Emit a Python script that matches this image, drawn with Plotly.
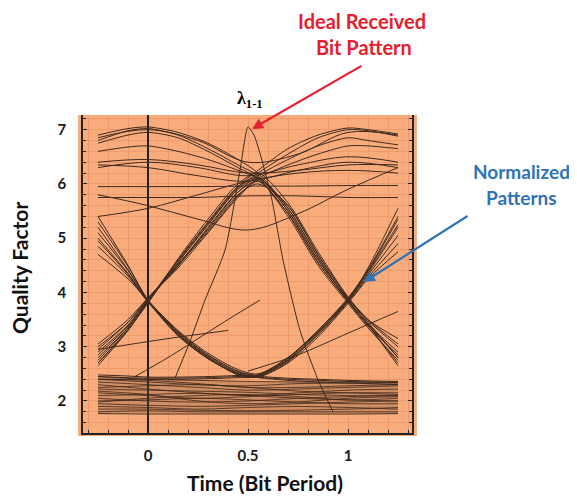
import plotly.graph_objects as go

# ---------------- data ----------------
x_tickvals = [0, 0.5, 1]
x_ticktext = ["0", "0.5", "1"]
y_tickvals = [2, 3, 4, 5, 6, 7]
y_ticktext = ["2", "3", "4", "5", "6", "7"]

# sample times for the transition patterns
edge_x = [-0.25, -0.1, 0, 0.15, 0.3, 0.45, 0.55, 0.7, 0.85, 1.0, 1.1, 1.25]

# 0-1-0 patterns (rise at 0, fall at 1)
arch_1 = [2.65, 3.30, 3.82, 4.55, 5.25, 5.90, 6.10, 5.55, 4.65, 3.85, 3.40, 2.65]
arch_2 = [2.75, 3.35, 3.85, 4.60, 5.30, 5.95, 6.12, 5.50, 4.60, 3.88, 3.45, 2.80]
arch_3 = [2.85, 3.38, 3.86, 4.50, 5.20, 5.85, 6.05, 5.45, 4.55, 3.84, 3.42, 2.90]
arch_4 = [2.95, 3.45, 3.88, 4.52, 5.15, 5.80, 6.00, 5.60, 4.70, 3.90, 3.48, 3.00]
arch_5 = [3.05, 3.50, 3.90, 4.45, 5.10, 5.75, 6.05, 5.40, 4.50, 3.80, 3.35, 2.75]
arch_6 = [2.70, 3.32, 3.80, 4.62, 5.35, 6.00, 6.20, 5.65, 4.75, 3.92, 3.50, 3.15]

# 1-0-1 patterns (fall at 0, rise at 1)
valley_1 = [5.40, 4.50, 3.85, 3.20, 2.78, 2.50, 2.45, 2.72, 3.25, 3.85, 4.35, 5.20]
valley_2 = [5.20, 4.42, 3.86, 3.25, 2.82, 2.52, 2.47, 2.78, 3.30, 3.88, 4.40, 5.35]
valley_3 = [5.00, 4.35, 3.84, 3.28, 2.85, 2.55, 2.48, 2.75, 3.22, 3.82, 4.28, 4.90]
valley_4 = [4.85, 4.30, 3.82, 3.22, 2.80, 2.48, 2.44, 2.70, 3.18, 3.80, 4.25, 4.75]
valley_5 = [4.70, 4.25, 3.85, 3.30, 2.88, 2.58, 2.50, 2.80, 3.28, 3.86, 4.45, 5.55]

# 0-1-1 patterns
rise_1 = [2.80, 3.35, 3.85, 4.58, 5.28, 5.95, 6.25, 6.65, 6.90, 7.03, 7.00, 6.92]
rise_2 = [2.70, 3.30, 3.83, 4.55, 5.25, 5.92, 6.20, 6.55, 6.85, 7.00, 6.98, 6.88]
rise_3 = [2.90, 3.40, 3.87, 4.48, 5.18, 5.85, 6.15, 6.45, 6.70, 6.85, 6.80, 6.72]
rise_4 = [3.00, 3.45, 3.90, 4.50, 5.12, 5.78, 6.10, 6.35, 6.55, 6.70, 6.70, 6.65]

# 1-1-0 patterns
fall_1 = [6.90, 7.02, 7.05, 6.95, 6.75, 6.45, 6.20, 5.55, 4.65, 3.85, 3.42, 2.80]
fall_2 = [6.80, 6.98, 7.02, 6.90, 6.65, 6.35, 6.15, 5.50, 4.60, 3.86, 3.40, 2.70]
fall_3 = [6.75, 6.90, 6.95, 6.85, 6.60, 6.30, 6.10, 5.45, 4.55, 3.83, 3.38, 2.85]
fall_4 = [6.60, 6.68, 6.70, 6.60, 6.45, 6.25, 6.10, 5.60, 4.70, 3.90, 3.50, 3.05]

# 1-0-0 patterns
drop_1 = [5.10, 4.40, 3.85, 3.24, 2.80, 2.50, 2.44, 2.40, 2.38, 2.36, 2.35, 2.34]
drop_2 = [4.95, 4.33, 3.83, 3.27, 2.84, 2.54, 2.46, 2.42, 2.40, 2.38, 2.37, 2.36]
drop_3 = [5.30, 4.48, 3.86, 3.22, 2.78, 2.49, 2.43, 2.38, 2.35, 2.33, 2.32, 2.30]

# 0-0-1 patterns
lift_1 = [2.45, 2.43, 2.42, 2.42, 2.43, 2.45, 2.46, 2.74, 3.22, 3.84, 4.32, 5.05]
lift_2 = [2.40, 2.40, 2.40, 2.40, 2.41, 2.43, 2.45, 2.76, 3.27, 3.87, 4.38, 5.25]
lift_3 = [2.48, 2.46, 2.44, 2.44, 2.45, 2.47, 2.48, 2.80, 3.30, 3.90, 4.42, 5.40]

edge_patterns = [arch_1, arch_2, arch_3, arch_4, arch_5, arch_6,
                 valley_1, valley_2, valley_3, valley_4, valley_5,
                 rise_1, rise_2, rise_3, rise_4,
                 fall_1, fall_2, fall_3, fall_4,
                 drop_1, drop_2, drop_3,
                 lift_1, lift_2, lift_3]

# steady "one" and "zero" level patterns
rail_x = [-0.25, 0, 0.25, 0.5, 0.75, 1.0, 1.25]
one_1 = [6.40, 6.45, 6.35, 6.20, 6.25, 6.35, 6.35]
one_2 = [6.35, 6.30, 6.15, 6.05, 6.25, 6.40, 6.30]
one_3 = [5.95, 5.95, 5.95, 5.96, 5.96, 5.97, 5.97]
one_4 = [5.80, 5.60, 5.35, 5.15, 5.45, 5.90, 6.30]
one_5 = [5.40, 5.55, 5.80, 6.05, 6.20, 6.25, 6.20]
one_6 = [6.85, 7.00, 6.80, 6.40, 6.55, 6.95, 6.90]
one_7 = [6.30, 6.40, 6.30, 6.15, 6.35, 6.50, 6.40]
one_8 = [5.75, 5.75, 5.75, 5.78, 5.78, 5.75, 5.75]
one_levels = [one_1, one_2, one_3, one_4, one_5, one_6, one_7, one_8]

zero_1 = [2.45, 2.40, 2.38, 2.36, 2.35, 2.35, 2.35]
zero_2 = [2.40, 2.35, 2.30, 2.28, 2.32, 2.33, 2.33]
zero_3 = [2.35, 2.30, 2.25, 2.20, 2.22, 2.25, 2.28]
zero_4 = [2.30, 2.22, 2.15, 2.10, 2.15, 2.20, 2.22]
zero_5 = [2.22, 2.20, 2.18, 2.16, 2.12, 2.10, 2.10]
zero_6 = [2.15, 2.10, 2.05, 2.08, 2.12, 2.15, 2.15]
zero_7 = [2.10, 2.12, 2.14, 2.10, 2.05, 2.02, 2.00]
zero_8 = [2.05, 2.00, 1.98, 2.00, 2.05, 2.08, 2.10]
zero_9 = [2.00, 2.02, 2.05, 2.02, 1.98, 1.95, 1.95]
zero_10 = [1.95, 1.92, 1.90, 1.92, 1.95, 1.98, 2.00]
zero_11 = [1.90, 1.88, 1.85, 1.88, 1.90, 1.88, 1.85]
zero_12 = [1.85, 1.85, 1.83, 1.82, 1.83, 1.85, 1.88]
zero_13 = [1.80, 1.82, 1.80, 1.80, 1.80, 1.80, 1.80]
zero_14 = [1.77, 1.76, 1.76, 1.76, 1.76, 1.76, 1.77]
zero_15 = [2.25, 2.28, 2.30, 2.25, 2.18, 2.15, 2.12]
zero_16 = [2.40, 2.38, 2.32, 2.25, 2.25, 2.28, 2.30]
zero_17 = [1.98, 2.05, 2.10, 2.12, 2.08, 2.02, 2.05]
zero_18 = [2.18, 2.12, 2.00, 1.95, 1.98, 2.05, 2.08]
zero_levels = [zero_1, zero_2, zero_3, zero_4, zero_5, zero_6, zero_7, zero_8, zero_9,
               zero_10, zero_11, zero_12, zero_13, zero_14, zero_15, zero_16, zero_17, zero_18]

band_top = [2.45, 2.40, 2.38, 2.36, 2.35, 2.35, 2.35]
band_bottom = [1.75, 1.75, 1.75, 1.75, 1.75, 1.75, 1.75]

# ideal received bit pattern (single pulse)
ideal_x = [0.135, 0.21, 0.285, 0.385, 0.46, 0.50, 0.53, 0.57, 0.62, 0.675, 0.76, 0.85, 0.925]
ideal_y = [2.42, 3.10, 3.86, 4.78, 6.25, 7.05, 6.90, 6.43, 5.70, 4.60, 3.30, 2.39, 1.80]

# a few slow / stray patterns
stray_1_x = [0.5, 0.75, 1.0, 1.25]
stray_1_y = [2.55, 2.85, 3.25, 3.65]
stray_2_x = [-0.07, 0.1, 0.25, 0.4, 0.56]
stray_2_y = [2.44, 2.80, 3.15, 3.50, 3.86]
stray_3_x = [-0.25, 0.1, 0.4]
stray_3_y = [2.95, 3.15, 3.30]

# ---------------- styling ----------------
ORANGE = "#F8AC7C"
GRID = "#EE9A6C"
LINE = "#3E2A1E"
FONT = "Lato"

# the page body has an 8 px default margin: the figure starts at (8, 8)
OFF = 8

fig = go.Figure()

# lower band texture
fig.add_trace(go.Scatter(x=rail_x, y=band_bottom, mode="lines", line=dict(width=0),
                         hoverinfo="skip", showlegend=False))
fig.add_trace(go.Scatter(x=rail_x, y=band_top, mode="lines", line=dict(width=0),
                         fill="tonexty", fillcolor="rgba(110,70,40,0.28)",
                         hoverinfo="skip", showlegend=False))

for ys in zero_levels:
    fig.add_trace(go.Scatter(x=rail_x, y=ys, mode="lines",
                             line=dict(color=LINE, width=1, shape="spline", smoothing=1.0),
                             opacity=0.8, showlegend=False))
for ys in one_levels:
    fig.add_trace(go.Scatter(x=rail_x, y=ys, mode="lines",
                             line=dict(color=LINE, width=1, shape="spline", smoothing=1.0),
                             showlegend=False))
for ys in edge_patterns:
    fig.add_trace(go.Scatter(x=edge_x, y=ys, mode="lines",
                             line=dict(color=LINE, width=1, shape="spline", smoothing=0.8),
                             showlegend=False))
for xs, ys in [(stray_1_x, stray_1_y), (stray_2_x, stray_2_y), (stray_3_x, stray_3_y)]:
    fig.add_trace(go.Scatter(x=xs, y=ys, mode="lines",
                             line=dict(color=LINE, width=1, shape="spline", smoothing=0.8),
                             showlegend=False))
fig.add_trace(go.Scatter(x=ideal_x, y=ideal_y, mode="lines",
                         line=dict(color=LINE, width=1, shape="spline", smoothing=0.6),
                         showlegend=False))

# orange panel slightly larger than the axes box
fig.add_shape(type="rect", xref="paper", yref="paper", x0=-0.015, x1=1.015, y0=-0.0094, y1=1.0,
              fillcolor=ORANGE, line=dict(width=0), layer="below")

fig.update_layout(
    width=577 - OFF, height=496 - OFF,
    margin=dict(l=83 - OFF, r=165, t=115 - OFF, b=63),
    paper_bgcolor="white",
    plot_bgcolor=ORANGE,
    showlegend=False,
    font=dict(family=FONT, color="black"),
)
fig.update_xaxes(
    range=[-0.325, 1.32], tickvals=x_tickvals, ticktext=x_ticktext,
    tickfont=dict(size=15, family=FONT, color="#1a1a1a", weight="bold"),
    showline=True, linecolor="#222", linewidth=1.5, mirror=False,
    ticks="inside", ticklen=4, tickcolor="#222",
    showgrid=True, gridcolor=GRID, gridwidth=1,
    zeroline=True, zerolinecolor="#222", zerolinewidth=1.5,
    minor=dict(dtick=0.1, tick0=0, showgrid=True, gridcolor=GRID, gridwidth=1,
               ticks="inside", ticklen=3, tickcolor="#222"),
    ticklabelstandoff=8,
)
fig.update_yaxes(
    range=[1.41, 7.27], tickvals=y_tickvals, ticktext=y_ticktext,
    tickfont=dict(size=15, family=FONT, color="#1a1a1a", weight="bold"),
    showline=True, linecolor="#222", linewidth=1.5, mirror="ticks",
    ticks="inside", ticklen=4, tickcolor="#222",
    showgrid=True, gridcolor=GRID, gridwidth=1,
    zeroline=False,
    minor=dict(dtick=0.2, tick0=0, showgrid=True, gridcolor=GRID, gridwidth=1,
               ticks="inside", ticklen=3, tickcolor="#222"),
    ticklabelstandoff=12,
)

# page pixel -> paper helpers for annotation placement (axes box: x 83..412, y 115..433)
def px_x(px):
    return (px - 83) / 329.0

def px_y(py):
    return (433 - py) / 318.0

RED = "#E5202E"
BLUE = "#2E74B5"
annos = [
    dict(x=px_x(362), y=px_y(21), text="<b>Ideal Received</b>", font=dict(size=20, color=RED, family=FONT)),
    dict(x=px_x(364), y=px_y(47), text="<b>Bit Pattern</b>", font=dict(size=20, color=RED, family=FONT)),
    dict(x=px_x(521), y=px_y(171), text="<b>Normalized</b>", font=dict(size=19, color=BLUE, family=FONT)),
    dict(x=px_x(521), y=px_y(197), text="<b>Patterns</b>", font=dict(size=19, color=BLUE, family=FONT)),
    dict(x=px_x(250), y=px_y(100), text="<b>λ<sub>1-1</sub></b>",
         font=dict(size=18, color="black", family="Liberation Serif")),
    dict(x=px_x(265), y=px_y(482), text="<b>Time (Bit Period)</b>", font=dict(size=21, color="#111", family=FONT)),
    dict(x=px_x(19), y=px_y(268), text="<b>Quality Factor</b>", textangle=-90,
         font=dict(size=21, color="#111", family=FONT)),
]
for a in annos:
    fig.add_annotation(xref="paper", yref="paper", showarrow=False, xanchor="center", yanchor="middle", **a)

# arrows
fig.add_annotation(xref="paper", yref="paper", x=px_x(252), y=px_y(129), ax=111, ay=-64,
                   axref="pixel", ayref="pixel", text="", showarrow=True,
                   arrowhead=2, arrowsize=1, arrowwidth=2.2, arrowcolor=RED)
fig.add_annotation(xref="paper", yref="paper", x=px_x(364), y=px_y(282), ax=105, ay=-67,
                   axref="pixel", ayref="pixel", text="", showarrow=True,
                   arrowhead=2, arrowsize=1, arrowwidth=2.2, arrowcolor=BLUE)

fig.write_html("out.html")
